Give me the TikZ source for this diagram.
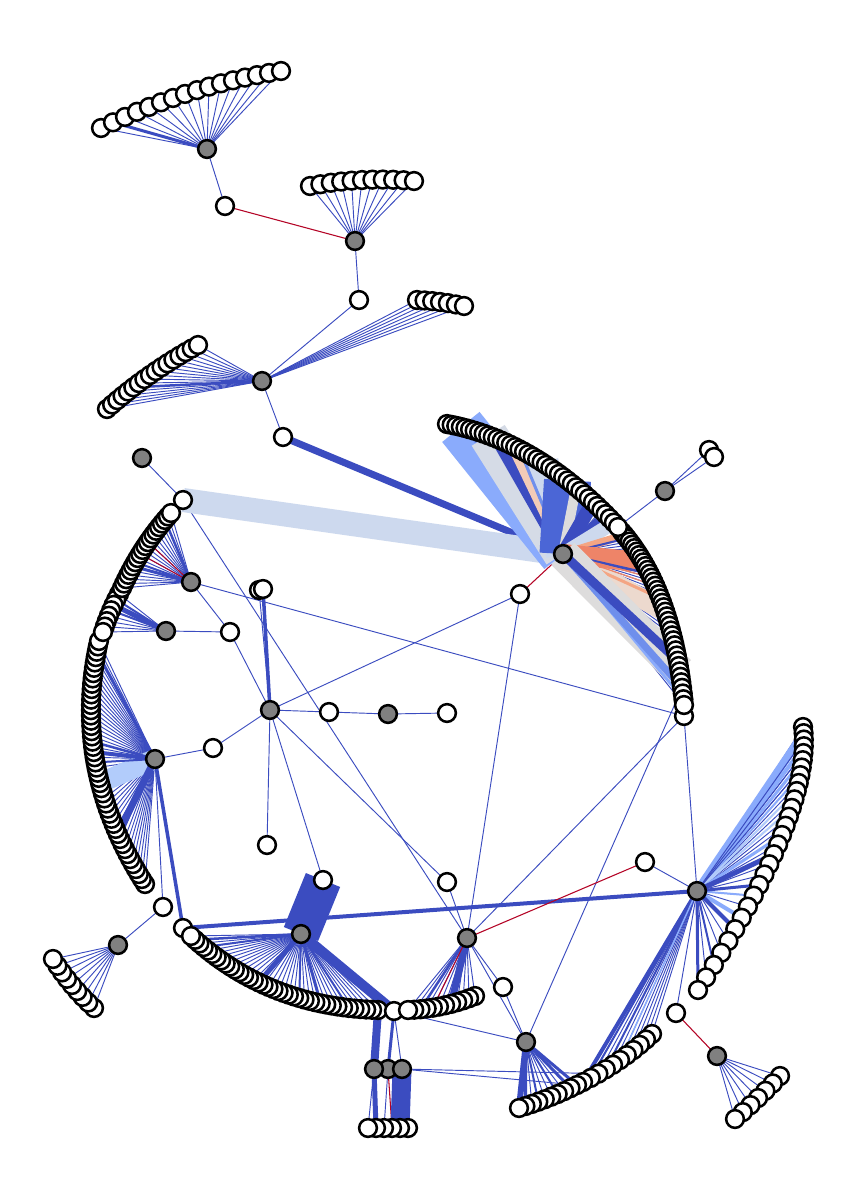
\documentclass[tikz,border=0pt]{standalone}
\usepackage{tikz}
\pgfdeclarelayer{edges}
\pgfsetlayers{edges,main}
\definecolor{cwA}{HTML}{3B4CC0}
\definecolor{cwB}{HTML}{6F8FEC}
\definecolor{cwB2}{HTML}{4B66D6}
\definecolor{cwC}{HTML}{8AABFC}
\definecolor{cwD}{HTML}{B2CCFB}
\definecolor{cwE}{HTML}{CDD9EE}
\definecolor{cwE2}{HTML}{D5DBE6}
\definecolor{cwF}{HTML}{DDDCDC}
\definecolor{cwG}{HTML}{F2CBB7}
\definecolor{cwG2}{HTML}{ECD9CE}
\definecolor{cwH}{HTML}{EE8468}
\definecolor{cwI}{HTML}{F4A583}
\definecolor{cwR}{HTML}{B40426}
\tikzset{
  wn/.style={circle,draw=black,fill=white,line width=1.9pt,minimum size=13.3pt,inner sep=0pt,outer sep=0pt},
  gn/.style={circle,draw=black,fill=black!50,line width=1.9pt,minimum size=13.3pt,inner sep=0pt,outer sep=0pt},
  thinedge/.style={draw=cwA,line width=0.7pt},
  rededge/.style={draw=cwR,line width=0.8pt}
}
% name, count, first point, middle point, last point (last is on top)
\newcommand{\arcfan}[8]{%
  \pgfmathtruncatemacro{\lastidx}{#2-1}%
  \foreach \ii in {0,...,\lastidx}{%
    \pgfmathsetmacro{\tv}{\ii/\lastidx}%
    \pgfmathsetmacro{\ca}{(1-\tv)*(1-2*\tv)}%
    \pgfmathsetmacro{\cb}{4*\tv*(1-\tv)}%
    \pgfmathsetmacro{\cc}{\tv*(2*\tv-1)}%
    \pgfmathsetmacro{\px}{\ca*#3+\cb*#5+\cc*#7}%
    \pgfmathsetmacro{\py}{\ca*#4+\cb*#6+\cc*#8}%
    \node[wn] (#1-\ii) at (\px,\py) {};
  }%
}
\newcommand{\spokes}[4]{\foreach \ii in {#3,...,#4}{\draw[thinedge] (#1.center) -- (#2-\ii.center);}}
\newcommand{\band}[4]{\draw[line width=#3*0.75pt,draw=#4] (#1.center) -- (#2.center);}
\newcommand{\tl}[2]{\draw[thinedge] (#1.center) -- (#2.center);}
\newcommand{\rl}[2]{\draw[rededge] (#1.center) -- (#2.center);}
\begin{document}
\begin{tikzpicture}[x=0.75pt,y=-0.75pt]
\useasboundingbox (0,0) rectangle (856,1200);
% ---- fans of white nodes
\arcfan{ta}{16}{101}{128}{191}{92}{281}{71}
\arcfan{tb}{11}{310}{186}{362}{180}{414}{181}
\arcfan{tc}{7}{417}{300}{440}{302}{464}{306}
\arcfan{td}{17}{107}{409}{150}{375}{198}{345}
\node[wn] (w684) at (684,716) {};
\arcfan{gb}{40}{622}{532}{663}{605}{684}{705}
\arcfan{ga}{40}{447}{424}{535}{458}{618}{527}
\arcfan{lc}{48}{145}{884}{96}{765}{99}{641}
\arcfan{lb}{8}{119}{594}{110}{613}{103}{632}
\arcfan{la}{20}{122}{588}{144}{548}{171}{513}
\arcfan{sw}{9}{94}{1008}{72}{985}{53}{959}
\node[wn] (w183b) at (183,928) {};
\arcfan{bl}{38}{378}{1010}{276}{990}{191}{936}
\node[wn] (w394) at (394,1011) {};
\arcfan{bm}{12}{475}{996}{442}{1006}{408}{1010}
\arcfan{rw}{6}{408}{1128}{388}{1128}{368}{1128}
\arcfan{ra}{29}{803}{727}{782}{835}{698}{990}
\arcfan{rb}{11}{652}{1034}{620}{1060}{583}{1082}
\arcfan{rc}{10}{577}{1085}{548}{1098}{519}{1108}
\arcfan{se}{7}{780}{1076}{758}{1098}{735}{1119}
% ---- single white nodes
\node[wn] (w225) at (225,206) {};
\node[wn] (w359) at (359,300) {};
\node[wn] (w283) at (283,437) {};
\node[wn] (w183) at (183,500) {};
\node[wn] (w520) at (520,594) {};
\node[wn] (w709) at (709,450) {};
\node[wn] (w714) at (714,457) {};
\node[wn] (w259) at (259,590) {};
\node[wn] (w263) at (263,589) {};
\node[wn] (w230) at (230,632) {};
\node[wn] (w329) at (329,712) {};
\node[wn] (w447a) at (447,713) {};
\node[wn] (w213) at (213,748) {};
\node[wn] (w267) at (267,845) {};
\node[wn] (w323) at (323,880) {};
\node[wn] (w447b) at (447,882) {};
\node[wn] (w645) at (645,862) {};
\node[wn] (w163) at (163,907) {};
\node[wn] (w503) at (503,987) {};
\node[wn] (w676) at (676,1013) {};
% ---- gray hubs
\node[gn] (h207) at (207,149) {};
\node[gn] (h355) at (355,241) {};
\node[gn] (h262) at (262,381) {};
\node[gn] (h142) at (142,458) {};
\node[gn] (h563) at (563,554) {};
\node[gn] (h665) at (665,491) {};
\node[gn] (h191) at (191,582) {};
\node[gn] (h166) at (166,631) {};
\node[gn] (h270) at (270,710) {};
\node[gn] (h388a) at (388,714) {};
\node[gn] (h155) at (155,759) {};
\node[gn] (h118) at (118,945) {};
\node[gn] (h301) at (301,934) {};
\node[gn] (h467) at (467,938) {};
\node[gn] (h697) at (697,891) {};
\node[gn] (h526) at (526,1042) {};
\node[gn] (h717) at (717,1056) {};
\node[gn] (h388) at (388,1069) {};
\node[gn] (h402) at (402,1069) {};
\node[gn] (h374) at (374,1069) {};
\begin{pgfonlayer}{edges}
\fill[white] (0,0) rectangle (856,1200);
% top
\spokes{h207}{ta}{0}{15}
\band{h207}{ta-1}{3}{cwA}
\tl{h207}{w225}
\rl{w225}{h355}
\spokes{h355}{tb}{0}{10}
\tl{h355}{w359}
\tl{w359}{h262}
\spokes{h262}{tc}{0}{6}
\spokes{h262}{td}{0}{16}
\band{h262}{td-5}{2.5}{cwA}
\tl{h262}{w283}
% long lines
\tl{h142}{w183}
\tl{w183}{h467}
\tl{h191}{w684}
\tl{h191}{w230}
\tl{h166}{w230}
\tl{w230}{h270}
\tl{h270}{w259}
\band{h270}{w263}{3.5}{cwA}
\tl{h270}{w520}
\tl{h270}{w329}
\tl{w329}{h388a}
\tl{h388a}{w447a}
\tl{h270}{w213}
\tl{w213}{h155}
\tl{h270}{w267}
\tl{h270}{w323}
\tl{h270}{w447b}
\tl{w447b}{h467}
\rl{w520}{h563}
\tl{w520}{h467}
\tl{w684}{h467}
\tl{w684}{h697}
\tl{h526}{gb-36}
\tl{h665}{ga-39}
\tl{h665}{w709}
\tl{h665}{w714}
% big upper right fan
\spokes{h563}{ga}{0}{39}
\spokes{h563}{gb}{0}{39}
\band{w283}{h563}{7}{cwA}
\band{w183}{h563}{24}{cwE}
\band{h563}{ga-3}{48}{cwC}
\band{h563}{ga-6}{14}{cwB}
\band{h563}{ga-9}{39}{cwE2}
\band{h563}{ga-21}{34}{cwE}
\band{h563}{ga-11}{13}{cwA}
\band{h563}{ga-14}{8}{cwG}
\band{h563}{ga-16}{3}{cwB}
\band{h563}{ga-27}{47}{cwB2}
\band{h563}{ga-29}{10}{cwF}
\band{h563}{ga-33}{14}{cwA}
\band{h563}{ga-36}{8}{cwA}
\band{h563}{ga-38}{14}{cwE}
\band{h563}{gb-21}{20}{cwG2}
\band{h563}{gb-18}{3}{cwI}
\band{h563}{gb-1}{8}{cwI}
\band{h563}{gb-2}{2}{cwA}
\band{h563}{gb-9}{20}{cwH}
\band{h563}{gb-12}{2.5}{cwA}
\band{h563}{gb-13}{1.2}{cwH}
\band{h563}{gb-15}{1.2}{cwH}
\band{h563}{gb-33}{32}{cwF}
\band{h563}{gb-38}{3}{cwC}
\band{h563}{gb-36}{7}{cwB}
\band{h563}{gb-31}{9}{cwA}
% left arc
\spokes{h191}{la}{0}{19}
\band{h191}{la-5}{3}{cwA}
\band{h191}{la-6}{2}{cwA}
\band{h191}{la-17}{2.5}{cwA}
\band{h191}{la-8}{1}{cwR}
\band{h191}{la-11}{1}{cwR}
\spokes{h166}{lb}{0}{7}
\band{h166}{lb-2}{5}{cwA}
\band{h166}{lb-1}{2}{cwA}
\band{h166}{lb-3}{2}{cwA}
\spokes{h155}{lc}{0}{47}
\band{h155}{lc-20}{20}{cwD}
\band{h155}{lc-10}{7}{cwA}
\band{h155}{lc-24}{2}{cwA}
\band{h155}{lc-26}{4}{cwA}
\band{h155}{lc-28}{2.5}{cwA}
\band{h155}{lc-45}{3}{cwA}
\band{h155}{w183b}{3.5}{cwA}
\tl{h155}{w163}
\tl{w163}{h118}
\spokes{h118}{sw}{0}{8}
% bottom
\band{w183b}{h697}{4}{cwA}
\band{w323}{h301}{37}{cwA}
\spokes{h301}{bl}{0}{37}
\band{h301}{w394}{10}{cwA}
\band{h301}{bl-36}{2.5}{cwA}
\band{h301}{bl-34}{2}{cwA}
\band{h301}{bl-22}{5}{cwA}
\band{h301}{bl-14}{2}{cwA}
\band{h301}{bl-10}{3}{cwA}
\band{h301}{bl-5}{2}{cwA}
\spokes{h467}{bm}{0}{11}
\band{h467}{bm-4}{7}{cwA}
\band{h467}{bm-9}{2.5}{cwA}
\rl{h467}{bm-7}
\rl{h467}{w645}
\tl{w645}{h697}
\tl{h467}{w503}
\tl{h467}{h526}
\tl{w503}{h526}
\tl{w394}{h526}
\band{h374}{bl-0}{8}{cwA}
\band{h388}{w394}{3}{cwA}
\tl{h402}{w394}
\tl{h374}{rw-5}
\band{h374}{rw-4}{5}{cwA}
\tl{h388}{rw-3}
\rl{h388}{rw-2}
\band{h402}{rw-1}{19}{cwA}
\tl{h402}{rb-8}
\tl{h402}{rc-0}
\spokes{h526}{rc}{0}{9}
\band{h526}{rc-9}{6}{cwA}
\band{h526}{rc-8}{3}{cwA}
\band{h526}{rc-6}{2}{cwA}
\band{h526}{rc-3}{2}{cwA}
\band{h526}{rc-1}{3}{cwA}
\band{h526}{rc-0}{3}{cwA}
% right
\spokes{h697}{ra}{0}{28}
\band{h697}{ra-1}{8}{cwC}
\band{h697}{ra-3}{4}{cwC}
\band{h697}{ra-5}{3}{cwC}
\band{h697}{ra-7}{2}{cwC}
\band{h697}{ra-9}{2}{cwD}
\band{h697}{ra-11}{2}{cwD}
\band{h697}{ra-14}{3}{cwC}
\band{h697}{ra-2}{1}{cwA}
\band{h697}{ra-4}{1}{cwA}
\band{h697}{ra-6}{1}{cwA}
\band{h697}{ra-16}{5}{cwA}
\band{h697}{ra-20}{2}{cwC}
\band{h697}{ra-22}{4}{cwC}
\band{h697}{ra-23}{4}{cwA}
\band{h697}{ra-19}{3}{cwA}
\band{h697}{ra-26}{2}{cwA}
\band{h697}{ra-28}{3}{cwA}
\spokes{h697}{rb}{0}{10}
\band{h697}{rb-10}{4}{cwA}
\band{h697}{rb-9}{2}{cwA}
\band{h697}{rb-7}{2}{cwA}
\band{h697}{rb-5}{1.5}{cwC}
\tl{h697}{w676}
\rl{w676}{h717}
\spokes{h717}{se}{0}{6}
\end{pgfonlayer}
\end{tikzpicture}
\end{document}
